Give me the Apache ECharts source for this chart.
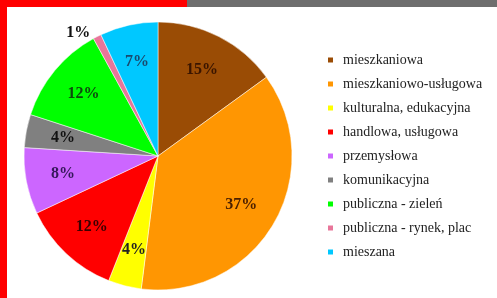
<!DOCTYPE html>
<html>
<head>
<meta charset="utf-8">
<script src="https://cdn.jsdelivr.net/npm/echarts@6/dist/echarts.min.js"></script>
<style>
  html, body { margin: 0; padding: 0; background: #fff; }
  #wrap { position: relative; width: 497px; height: 298px; overflow: hidden; }
  #chart { position: absolute; left: 0; top: 0; width: 497px; height: 298px; }
  .bar { position: absolute; }
</style>
</head>
<body>
<div id="wrap">
  <div id="chart"></div>
  <div class="bar" style="left:0;top:0;width:187px;height:7px;background:#ff0000"></div>
  <div class="bar" style="left:187px;top:0;width:310px;height:7px;background:#6e6e6e"></div>
  <div class="bar" style="left:0;top:0;width:7px;height:298px;background:#ff0000"></div>
</div>
<script>
const categories = [
  'mieszkaniowa',
  'mieszkaniowo-usługowa',
  'kulturalna, edukacyjna',
  'handlowa, usługowa',
  'przemysłowa',
  'komunikacyjna',
  'publiczna - zieleń',
  'publiczna - rynek, plac',
  'mieszana'
];
const values = [15, 37, 4, 12, 8, 4, 12, 1, 7];
const colors = ['#9a4c05', '#ff9602', '#ffff00', '#ff0000', '#cc66ff', '#808080', '#00ff00', '#e8769a', '#00c8ff'];
const labelColors = ['#3a1500', '#4a1f00', '#222222', '#3a0000', '#35185a', '#111111', '#0d4a0d', '#111111', '#1a4a6e'];

const chart = echarts.init(document.getElementById('chart'));

const center = [158, 156];
const R = 134;

chart.setOption({
  animation: false,
  legend: {
    orient: 'vertical',
    left: 321,
    top: 48,
    icon: 'rect',
    itemWidth: 7,
    itemHeight: 7,
    itemGap: 10,
    data: categories,
    textStyle: {
      fontFamily: 'Liberation Serif',
      fontSize: 14,
      color: '#222',
      padding: [0, 0, 0, 4]
    }
  },
  series: [
    {
      type: 'pie',
      center: center,
      radius: R,
      startAngle: 90,
      clockwise: true,
      silent: true,
      label: { show: false },
      labelLine: { show: false },
      itemStyle: { borderColor: '#fff', borderWidth: 0.5 },
      data: categories.map((n, i) => ({ name: n, value: values[i], itemStyle: { color: colors[i] } }))
    },
    {
      type: 'pie',
      center: center,
      radius: [R * 0.4, R],
      startAngle: 90,
      clockwise: true,
      silent: true,
      legendHoverLink: false,
      itemStyle: { color: 'rgba(0,0,0,0)' },
      label: {
        position: 'inside',
        formatter: '{c}%',
        fontFamily: 'Liberation Serif',
        fontWeight: 'bold',
        fontSize: 16
      },
      labelLine: { show: false, length: 4, length2: 0 },
      data: categories.map((n, i) => ({
        name: n,
        value: values[i],
        label: i === 7
          ? { position: 'outside', color: labelColors[i] }
          : { color: labelColors[i] }
      }))
    }
  ]
});
</script>
</body>
</html>
